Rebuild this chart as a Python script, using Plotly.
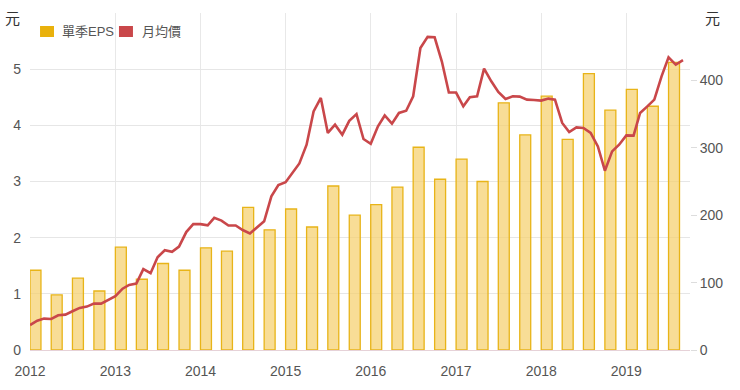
import plotly.graph_objects as go
import pandas as pd

# Quarterly EPS (單季EPS), 2012Q1 .. 2019Q3
quarters = pd.date_range("2012-01-01", periods=31, freq="QS").strftime("%Y-%m-%d").tolist()
eps = [1.42, 0.98, 1.28, 1.05,
       1.83, 1.26, 1.54, 1.42,
       1.82, 1.76, 2.54, 2.14,
       2.51, 2.19, 2.92, 2.40,
       2.59, 2.90, 3.61, 3.04,
       3.40, 3.00, 4.40, 3.83,
       4.52, 3.75, 4.92, 4.27,
       4.64, 4.34, 5.12]

# Monthly average price (月均價), 2012-01 .. 2019-09
months = pd.date_range("2012-01-01", periods=93, freq="MS").strftime("%Y-%m-%d").tolist()
price = [37, 43.5, 46.6, 46, 51.5, 52.5, 57.5, 62.4, 64.4, 68.8, 68.8, 73.8,
         79.8, 91, 96.6, 98.5, 120, 114, 137.7, 148, 145.6, 153.5, 175, 186.7,
         186.7, 185, 196, 192, 184.7, 184.7, 178, 173, 182.8, 191, 228, 244.7,
         249, 264.5, 276.8, 304.6, 354, 374, 322, 334.3, 319.5, 340, 350, 313,
         306, 331.8, 348, 335.8, 351.7, 355, 376.4, 448, 464.6, 464, 428, 382,
         382, 361.5, 375, 376.4, 417.5, 398.7, 383, 372.5, 376.4, 376, 371.5, 371,
         370, 373, 371.5, 336.8, 323.4, 330.3, 329.3, 322, 302, 266, 294.7, 304.6,
         318.4, 318, 351.7, 361.5, 371.5, 406, 434.3, 423.5, 430]

left_ticks = [0, 1, 2, 3, 4, 5, 6]
left_text = ["0", "1", "2", "3", "4", "5", ""]
right_ticks = [0, 100, 200, 300, 400]

series_names = ["單季EPS", "月均價"]
series_colors = ["#e9b10c", "#c9474a"]

FONT = "Helvetica Neue, Liberation Sans, Noto Sans CJK TC, sans-serif"
DAY_MS = 86400000

fig = go.Figure()

fig.add_trace(go.Bar(
    x=quarters, y=eps, name=series_names[0], showlegend=False,
    width=47 * DAY_MS, offset=0,
    marker=dict(color="rgba(245, 208, 110, 0.72)",
                line=dict(color="#e8b418", width=1.3)),
    yaxis="y",
))

fig.add_trace(go.Scatter(
    x=months, y=price, name=series_names[1], showlegend=False,
    mode="lines", line=dict(color=series_colors[1], width=2.6),
    yaxis="y2",
))

# custom legend (square swatch + label), positioned in paper coords
legend_swatch_x = [(0.0152, 0.0364), (0.1348, 0.1560)]
legend_text_x = [0.0455, 0.1667]
shapes = []
annotations = []
for (x0, x1), tx, nm, col in zip(legend_swatch_x, legend_text_x, series_names, series_colors):
    shapes.append(dict(type="rect", xref="paper", yref="paper",
                       x0=x0, x1=x1, y0=0.9288, y1=0.9614,
                       fillcolor=col, line=dict(width=0)))
    annotations.append(dict(text=nm, xref="paper", yref="paper", x=tx, y=0.946,
                            xanchor="left", yanchor="middle", showarrow=False,
                            font=dict(size=13, color="#555555")))

annotations += [
    dict(text="元", xref="paper", yref="paper", x=-0.012, y=0.985,
         xanchor="right", yanchor="middle", showarrow=False,
         font=dict(size=15, color="#333333")),
    dict(text="元", xref="paper", yref="paper", x=1.02, y=0.985,
         xanchor="left", yanchor="middle", showarrow=False,
         font=dict(size=15, color="#333333")),
]

fig.update_layout(
    width=740, height=390,
    margin=dict(l=30, r=50, t=13, b=40, autoexpand=False),
    paper_bgcolor="white", plot_bgcolor="white",
    font=dict(family=FONT, size=13, color="#555555"),
    showlegend=False,
    xaxis=dict(
        type="date", range=["2012-01-01", "2019-10-01"], automargin=False,
        dtick="M12", tick0="2012-01-01", tickformat="%Y",
        showgrid=True, gridcolor="#e8e8e8", gridwidth=1,
        showline=True, linecolor="#e6d2d8", linewidth=1,
        ticks="", ticklabelstandoff=8, zeroline=False,
        tickfont=dict(size=14, color="#555555"),
    ),
    yaxis=dict(
        range=[0, 6], tickvals=left_ticks, ticktext=left_text, automargin=False,
        showgrid=True, gridcolor="#e6e6e6", gridwidth=1,
        zeroline=False, ticks="", ticklabelstandoff=8,
        tickfont=dict(size=14, color="#555555"),
    ),
    yaxis2=dict(
        range=[0, 500], tickvals=right_ticks, overlaying="y", side="right",
        automargin=False,
        showgrid=False, zeroline=False,
        ticks="outside", ticklen=6, tickcolor="#dddddd",
        tickfont=dict(size=14, color="#555555"),
    ),
    shapes=shapes,
    annotations=annotations,
)

fig.write_html("out.html", config={"displayModeBar": False},
               post_script="document.body.style.margin='0';")
